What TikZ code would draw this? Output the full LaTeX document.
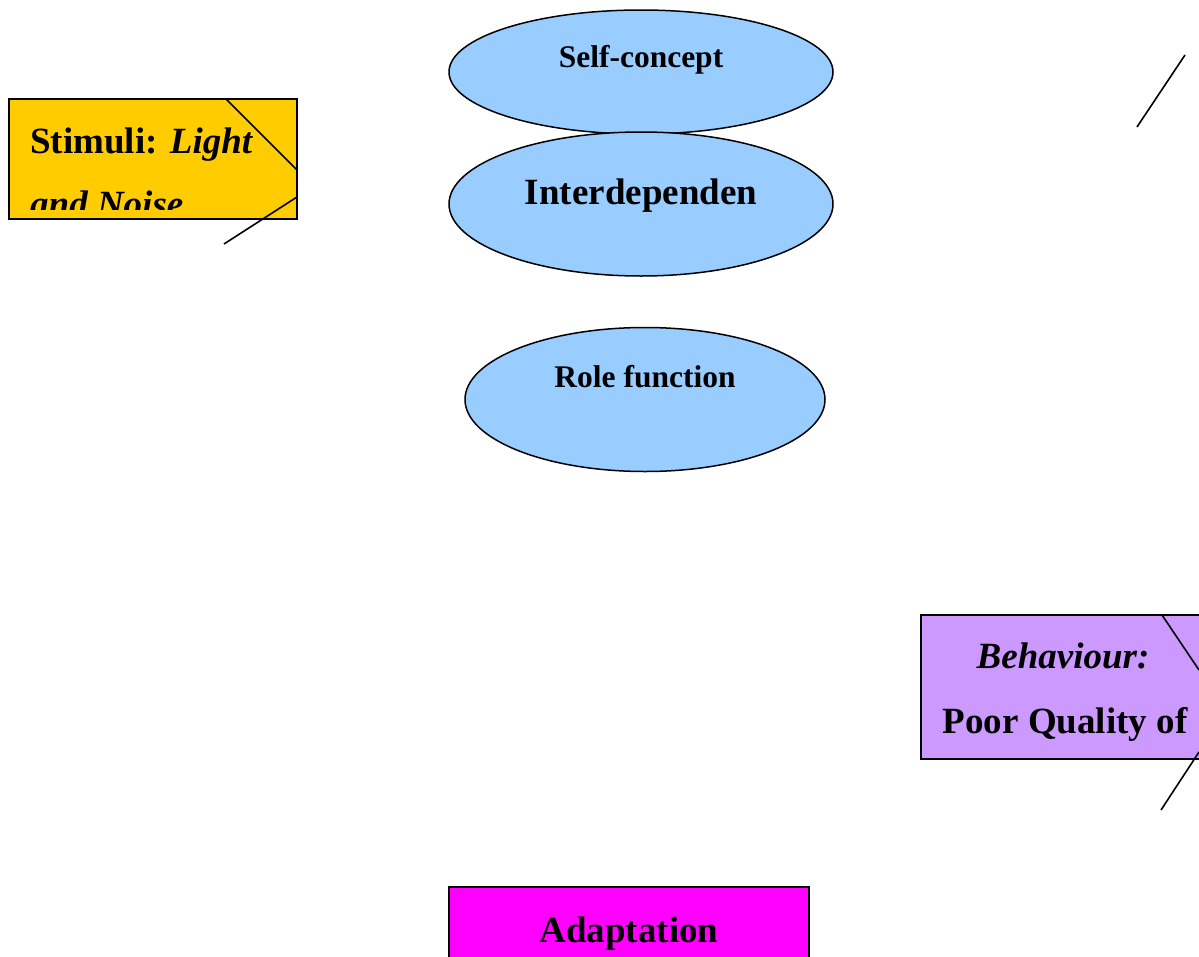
\documentclass[tikz,border=0pt]{standalone}
\usepackage{fontspec}
\setmainfont{Liberation Serif}
\usetikzlibrary{shapes.geometric}
\definecolor{stimfill}{HTML}{FFCC00}
\definecolor{behfill}{HTML}{CC99FF}
\definecolor{adfill}{HTML}{FF00FF}
\definecolor{ellfill}{HTML}{99CCFF}
\tikzset{
  box/.style={draw=black, line width=1.8pt, rectangle, inner sep=0pt},
  ell/.style={draw=black, line width=1.5pt, ellipse, fill=ellfill, inner sep=0pt},
  big/.style={font=\fontsize{37}{37}\selectfont\bfseries, inner sep=0pt},
  small/.style={font=\fontsize{31.5}{31.5}\selectfont\bfseries, inner sep=0pt},
  conn/.style={draw=black, line width=1.6pt}
}
\begin{document}
\begin{tikzpicture}[x=1pt,y=-1pt]
\clip (0,0) rectangle (1199,956);
\fill[white] (0,0) rectangle (1199,956);
% Stimuli box
\node[box, fill=stimfill, minimum width=288pt, minimum height=120pt] (stim) at (153,159) {};
\begin{scope}
\clip (stim.north west) rectangle (297,209);
\node[big, anchor=base west] (stimA) at (30,153) {Stimuli: \textit{Light}};
\node[big, anchor=base west] (stimB) at (30,216) {\textit{and Noise}};
\end{scope}
\coordinate (s1) at (226,99);
\coordinate (s2) at (297,170);
\coordinate (s3) at (297,197);
\coordinate (s4) at (224,244);
\draw[conn] (s1) -- (s2);
\draw[conn] (s3) -- (s4);
% Top right line
\coordinate (t1) at (1185,55);
\coordinate (t2) at (1137,127);
\draw[conn] (t1) -- (t2);
% Ellipses
\node[ell, minimum width=384pt, minimum height=124pt] (self) at (641,72) {};
\node[small, anchor=base] (selft) at (641,67) {Self-concept};
\node[ell, minimum width=384pt, minimum height=144pt] (inter) at (641,204) {};
\node[big, anchor=base] (intert) at (641,204) {Interdependen};
\node[ell, minimum width=360pt, minimum height=144pt] (role) at (645,399.5) {};
\node[small, anchor=base] (rolet) at (645,387) {Role function};
% Behaviour box
\node[box, fill=behfill, minimum width=320pt, minimum height=144pt] (beh) at (1081,687) {};
\node[big, anchor=base] (behA) at (1063,668) {\textit{Behaviour:}};
\node[big, anchor=base] (behB) at (1065,733) {Poor Quality of};
\coordinate (b1) at (1162,615);
\coordinate (b2) at (1199,670);
\coordinate (b3) at (1199,752);
\coordinate (b4) at (1161,810);
\draw[conn] (b1) -- (b2);
\draw[conn] (b3) -- (b4);
% Adaptation box
\node[box, fill=adfill, minimum width=360pt, minimum height=120pt] (adapt) at (629,947) {};
\node[big, anchor=base] (adaptt) at (629,942) {Adaptation};
\end{tikzpicture}
\end{document}
